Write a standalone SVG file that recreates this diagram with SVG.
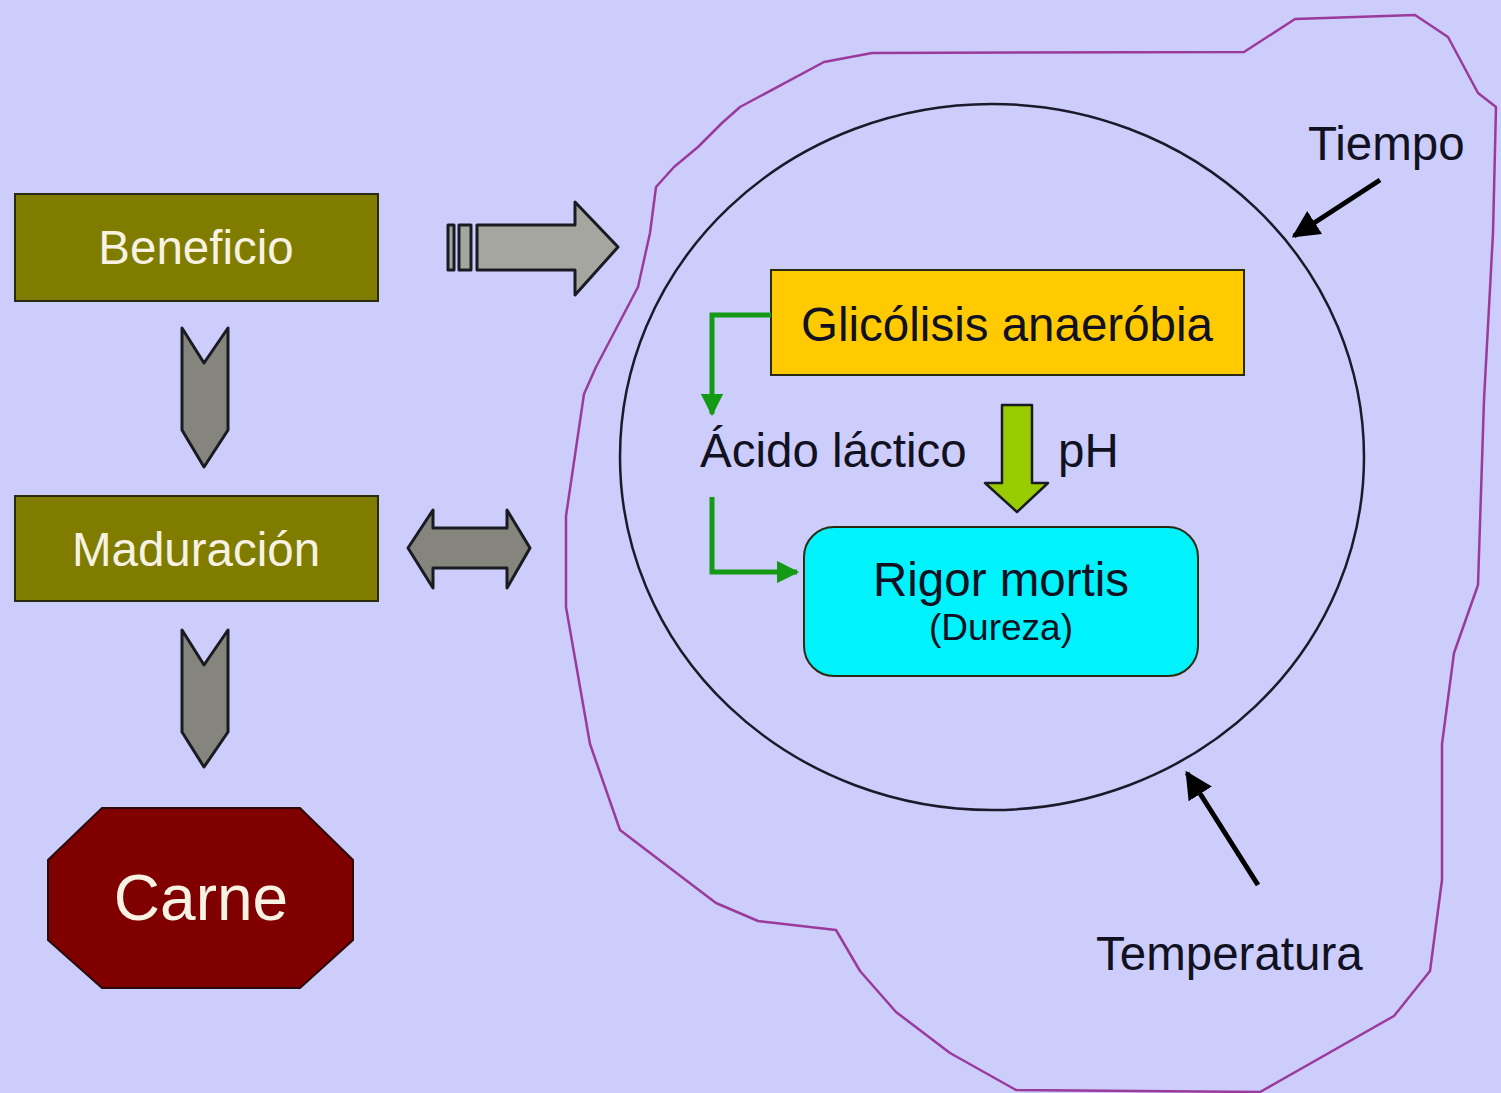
<svg xmlns="http://www.w3.org/2000/svg" width="1501" height="1093" viewBox="0 0 1501 1093">
<defs>
<style>
text{font-family:"Liberation Sans",Arial,sans-serif;}
.box{stroke:#2a2a10;stroke-width:2;}
.olive{fill:#7f7c00;}
.wt{fill:#f8f2e2;font-size:47.5px;text-anchor:middle;}
.dk{fill:#111122;font-size:47.5px;}
.gray{fill:#a6a6a0;stroke:#1a1a22;stroke-width:3;stroke-linejoin:round;}
.gray2{fill:#85857e;stroke:#1a1a22;stroke-width:3;stroke-linejoin:round;}
.green{fill:none;stroke:#159a15;stroke-width:5;}
.blk{stroke:#000;stroke-width:5;fill:none;}
</style>
<marker id="ga" viewBox="0 0 10 10" refX="9" refY="5" markerWidth="4.5" markerHeight="4.5" orient="auto" markerUnits="strokeWidth"><path d="M0,0 L10,5 L0,10 z" fill="#159a15"/></marker>
<marker id="ba" viewBox="0 0 10 10" refX="9" refY="5" markerWidth="5.5" markerHeight="5.5" orient="auto" markerUnits="strokeWidth"><path d="M0,0 L10,5 L0,10 z" fill="#000"/></marker>
</defs>
<rect width="1501" height="1093" fill="#cdcdfc"/>
<g id="blob">
<path d="M1415,15 L1295,19 L1244,52 L872,53 L824,62 L740,107 L722,123 L698,147 L674,167 L656,187 L650,233 L638,287 L596,367 L584,394 L566,516 L566,607 L590,744 L620,830 L662,862 L716,903 L758,921 L836,930 L860,971 L896,1012 L950,1053 L1016,1090 L1260,1092 L1394,1016 L1430,971 L1442,880 L1442,744 L1454,653 L1478,585 L1484,400 L1493,233 L1496,107 L1478,93 L1448,37 Z" fill="none" stroke="#9a3a9a" stroke-width="2.5" stroke-linejoin="round"/>
</g>
<g id="circle">
<ellipse cx="992" cy="457" rx="372" ry="353" fill="none" stroke="#1a1a2a" stroke-width="2.5"/>
</g>
<g id="beneficio">
<rect class="box olive" x="15" y="194" width="363" height="107"/>
<text class="wt" x="196" y="264">Beneficio</text>
</g>
<g id="maduracion">
<rect class="box olive" x="15" y="496" width="363" height="105"/>
<text class="wt" x="196" y="566">Maduración</text>
</g>
<g id="carne">
<polygon points="102,808 300,808 353,860 353,940 300,988 102,988 48,940 48,860" fill="#800000" stroke="#2a0a0a" stroke-width="2"/>
<text class="wt" x="201" y="920" style="font-size:64px">Carne</text>
</g>
<g id="glicolisis">
<rect class="box" x="771" y="270" width="473" height="105" fill="#ffcb00"/>
<text class="dk" x="1007" y="341" text-anchor="middle">Glicólisis anaeróbia</text>
</g>
<g id="acido">
<text class="dk" x="700" y="467">Ácido láctico</text>
</g>
<g id="ph">
<text class="dk" x="1058" y="467">pH</text>
</g>
<g id="rigor">
<rect class="box" x="804" y="527" width="394" height="149" rx="30" fill="#00f2fa"/>
<text class="dk" x="1001" y="596" text-anchor="middle">Rigor mortis</text>
<text class="dk" x="1001" y="640" text-anchor="middle" style="font-size:37px">(Dureza)</text>
</g>
<g id="tiempo">
<text class="dk" x="1308" y="160">Tiempo</text>
</g>
<g id="temperatura">
<text class="dk" x="1096" y="970">Temperatura</text>
</g>
<g id="connectors">
<polygon class="gray2" points="182,328 204,363 228,328 228,430 204,467 182,430"/>
<polygon class="gray2" points="182,630 204,665 228,630 228,732 204,767 182,732"/>
<rect class="gray" x="448" y="225" width="6" height="45"/>
<rect class="gray" x="459" y="225" width="12" height="45"/>
<polygon class="gray" points="477,225 575,225 575,202 618,247 575,295 575,270 477,270"/>
<polygon class="gray2" points="408,548 433,510 433,528 507,528 507,510 530,548 507,588 507,568 433,568 433,588"/>
<polyline class="green" points="771,315 712,315 712,414" marker-end="url(#ga)"/>
<polyline class="green" points="712,497 712,572 797,572" marker-end="url(#ga)"/>
<polygon points="1002,405 1032,405 1032,483 1048,483 1017,512 985,483 1002,483" fill="#99cc00" stroke="#1a1a22" stroke-width="2.5" stroke-linejoin="round"/>
<line class="blk" x1="1380" y1="180" x2="1294" y2="236" marker-end="url(#ba)"/>
<line class="blk" x1="1258" y1="885" x2="1187" y2="773" marker-end="url(#ba)"/>
</g>
</svg>
